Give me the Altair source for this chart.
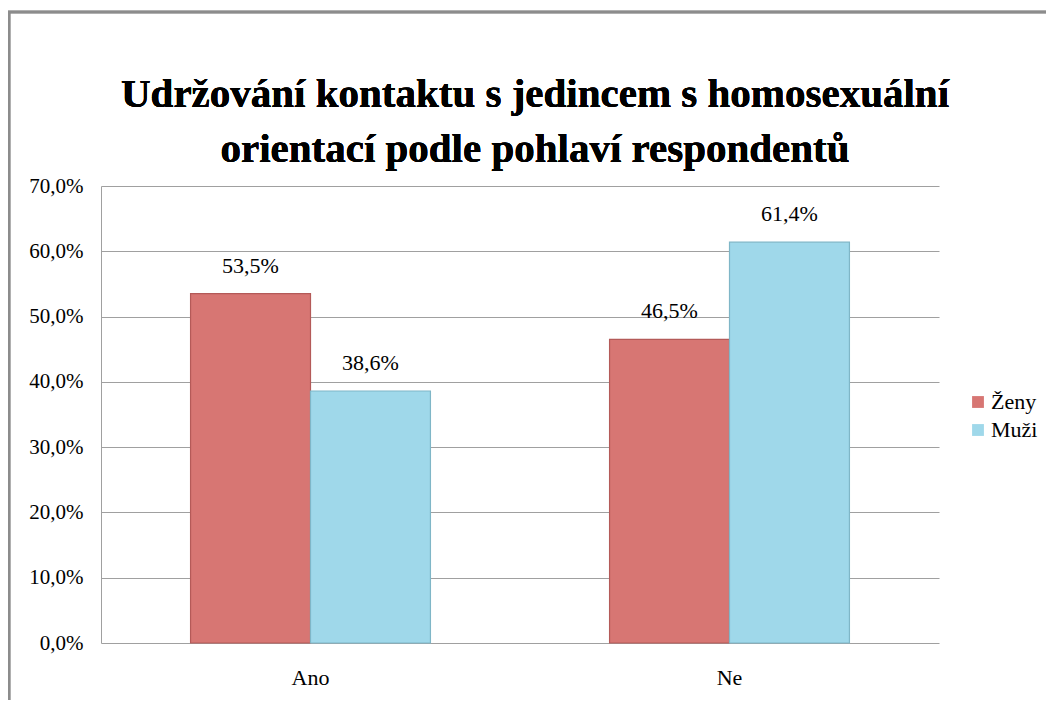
import altair as alt
import pandas as pd

categories = ["Ano", "Ano", "Ne", "Ne"]
groups = ["Ženy", "Muži", "Ženy", "Muži"]
values = [53.5, 38.6, 46.5, 61.4]
title_lines = ["Udržování kontaktu s jedincem s homosexuální",
               "orientací podle pohlaví respondentů"]
series_order = ["Ženy", "Muži"]
series_colors = ["#D77673", "#9FD8EA"]

df = pd.DataFrame({"cat": categories, "grp": groups, "val": values})

FONT = "Liberation Serif"

base = alt.Chart(df).transform_calculate(
    label="replace(format(datum.val, '.1f'), '.', ',') + '%'"
)

x = alt.X("cat:N", title=None, sort=["Ano", "Ne"],
          scale=alt.Scale(paddingInner=0.4275, paddingOuter=0.21375),
          axis=alt.Axis(labelAngle=0, labelFont=FONT, labelFontSize=22,
                        labelColor="#000000", ticks=False, domain=False,
                        labelPadding=24))
y = alt.Y("val:Q", title=None,
          scale=alt.Scale(domain=[0, 70], nice=False),
          axis=alt.Axis(values=[0, 10, 20, 30, 40, 50, 60, 70],
                        labelExpr="replace(format(datum.value, '.1f'), '.', ',') + '%'",
                        labelFont=FONT, labelFontSize=21, labelColor="#000000",
                        ticks=False, domain=True, domainColor="#A0A0A0",
                        gridColor="#A0A0A0", gridWidth=1.2, labelPadding=18))
xo = alt.XOffset("grp:N", sort=series_order)

bars = base.mark_bar(strokeWidth=1.2).encode(
    x=x, y=y, xOffset=xo,
    color=alt.Color("grp:N", sort=series_order, title=None,
                    scale=alt.Scale(domain=series_order, range=series_colors),
                    legend=alt.Legend(orient="none", legendX=866, legendY=205,
                                      symbolType="square", symbolSize=140,
                                      symbolStrokeWidth=0,
                                      labelFont=FONT, labelFontSize=22,
                                      labelColor="#000000", rowPadding=6,
                                      labelOffset=2)),
    stroke=alt.Stroke("grp:N", sort=series_order, legend=None,
                      scale=alt.Scale(domain=series_order,
                                      range=["#B45A58", "#7FB6C7"])),
)

labels = base.mark_text(font=FONT, fontSize=22, baseline="bottom", dy=-16,
                        color="#000000").encode(
    x=x, y=y, xOffset=xo, text="label:N")

title = alt.Chart(df).mark_text(font=FONT, fontSize=41, fontWeight="bold",
                                color="#000000", align="center",
                                baseline="middle", lineHeight=55).encode(
    x=alt.value(434), y=alt.value(-91), text=alt.value(title_lines))

frame = alt.Chart(df).mark_rect(fill=None, stroke="#8C8C8C", strokeWidth=2.5).encode(
    x=alt.value(-92), x2=alt.value(1000), y=alt.value(-174), y2=alt.value(600)
)

chart = alt.layer(frame, bars, labels, title).properties(
    width=838, height=457,
    padding={"left": 93, "top": 178, "right": 107, "bottom": 57},
    autosize=alt.AutoSizeParams(type="none"),
).configure_view(stroke=None)

chart.save("out.html", embed_options={"renderer": "svg", "actions": False})
